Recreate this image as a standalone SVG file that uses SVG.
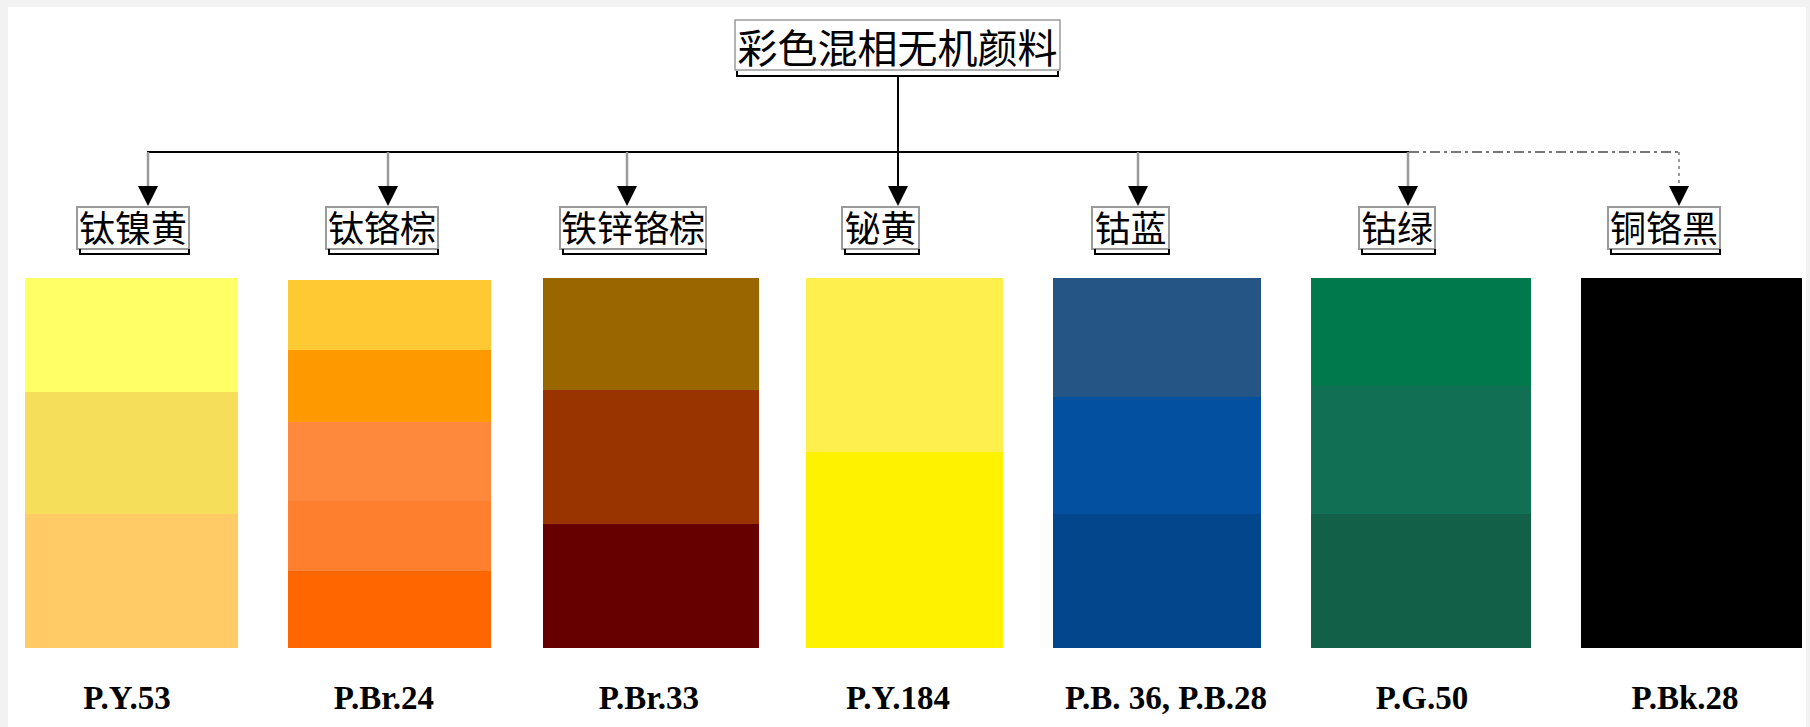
<svg xmlns="http://www.w3.org/2000/svg" width="1810" height="727" viewBox="0 0 1810 727">
<defs>
<style>
.cn{font-family:"Noto Sans CJK SC","Noto Sans CJK TC",sans-serif;fill:#000;text-anchor:middle}
.lbl{font-family:"Liberation Serif","Times New Roman",serif;font-weight:bold;font-size:33px;fill:#000;text-anchor:middle}
.box{fill:#fff;stroke:#9a9a9a;stroke-width:1.5}
.brk{fill:none;stroke:#000;stroke-width:2}
.shaft{stroke:#9a9a9a;stroke-width:2.5;fill:none}
.trunk{stroke:#000;stroke-width:2;fill:none}
.dd{stroke:#777;stroke-width:2;fill:none;stroke-dasharray:10 4 3 4}
.dot{stroke:#999;stroke-width:2;fill:none;stroke-dasharray:3 4}
.head{fill:#000}
.sw rect{shape-rendering:crispEdges}
</style>
</defs>
<rect x="0" y="0" width="1810" height="727" fill="#f2f2f2"/>
<rect x="8" y="7" width="1798" height="720" fill="#fff"/>

<g id="connectors">
<line class="trunk" x1="898" y1="76" x2="898" y2="152"/>
<line class="trunk" x1="147" y1="152" x2="1409" y2="152"/>
<line class="dd" x1="1409" y1="152" x2="1679" y2="152"/>
<path class="shaft" d="M148,152 V188"/>
<path class="shaft" d="M388,152 V188"/>
<path class="shaft" d="M627,152 V188"/>
<path class="trunk" d="M898,152 V188"/>
<path class="shaft" d="M1138,152 V188"/>
<path class="shaft" d="M1408,152 V188"/>
<path class="dot" d="M1679,152 V188"/>
<polygon class="head" points="138,186 158,186 148,206"/>
<polygon class="head" points="378,186 398,186 388,206"/>
<polygon class="head" points="617,186 637,186 627,206"/>
<polygon class="head" points="888,186 908,186 898,206"/>
<polygon class="head" points="1128,186 1148,186 1138,206"/>
<polygon class="head" points="1398,186 1418,186 1408,206"/>
<polygon class="head" points="1669,186 1689,186 1679,206"/>
</g>

<g id="root">
<rect class="box" x="735" y="20" width="325" height="50"/>
<path class="brk" d="M737,71 V76 H1058 V71"/>
<text class="cn" x="897.5" y="63" font-size="40">彩色混相无机颜料</text>
</g>

<g id="n1" class="sw">
<rect class="box" x="77" y="207" width="112" height="42"/>
<path class="brk" d="M80,249 V254 H189 V249"/>
<text class="cn" x="133" y="242" font-size="36">钛镍黄</text>
<rect x="25" y="278" width="213" height="114" fill="#ffff66"/>
<rect x="25" y="392" width="213" height="122" fill="#f5de5a"/>
<rect x="25" y="514" width="213" height="134" fill="#fecb66"/>
<text class="lbl" x="127" y="709">P.Y.53</text>
</g>

<g id="n2" class="sw">
<rect class="box" x="326" y="207" width="112" height="42"/>
<path class="brk" d="M329,249 V254 H438 V249"/>
<text class="cn" x="382" y="242" font-size="36">钛铬棕</text>
<rect x="288" y="280" width="203" height="70" fill="#ffc933"/>
<rect x="288" y="350" width="203" height="72" fill="#ff9900"/>
<rect x="288" y="422" width="203" height="79" fill="#fe883c"/>
<rect x="288" y="501" width="203" height="70" fill="#fe7f2d"/>
<rect x="288" y="571" width="203" height="77" fill="#ff6600"/>
<text class="lbl" x="384" y="709">P.Br.24</text>
</g>

<g id="n3" class="sw">
<rect class="box" x="560" y="207" width="146" height="42"/>
<path class="brk" d="M563,249 V254 H706 V249"/>
<text class="cn" x="633" y="242" font-size="36">铁锌铬棕</text>
<rect x="543" y="278" width="216" height="112" fill="#996600"/>
<rect x="543" y="390" width="216" height="134" fill="#993300"/>
<rect x="543" y="524" width="216" height="124" fill="#660000"/>
<text class="lbl" x="649" y="709">P.Br.33</text>
</g>

<g id="n4" class="sw">
<rect class="box" x="842" y="207" width="77" height="42"/>
<path class="brk" d="M845,249 V254 H919 V249"/>
<text class="cn" x="880.5" y="242" font-size="36">铋黄</text>
<rect x="806" y="278" width="197" height="174" fill="#ffef4e"/>
<rect x="806" y="452" width="197" height="196" fill="#fef200"/>
<text class="lbl" x="898" y="709">P.Y.184</text>
</g>

<g id="n5" class="sw">
<rect class="box" x="1092" y="207" width="77" height="42"/>
<path class="brk" d="M1095,249 V254 H1169 V249"/>
<text class="cn" x="1130.5" y="242" font-size="36">钴蓝</text>
<rect x="1053" y="278" width="208" height="119" fill="#245584"/>
<rect x="1053" y="397" width="208" height="117" fill="#0450a0"/>
<rect x="1053" y="514" width="208" height="134" fill="#04468b"/>
<text class="lbl" x="1166" y="709">P.B. 36, P.B.28</text>
</g>

<g id="n6" class="sw">
<rect class="box" x="1359" y="207" width="76" height="42"/>
<path class="brk" d="M1362,249 V254 H1435 V249"/>
<text class="cn" x="1397" y="242" font-size="36">钴绿</text>
<rect x="1311" y="278" width="220" height="108" fill="#007a4d"/>
<rect x="1311" y="386" width="220" height="128" fill="#116f53"/>
<rect x="1311" y="514" width="220" height="134" fill="#136049"/>
<text class="lbl" x="1422" y="709">P.G.50</text>
</g>

<g id="n7" class="sw">
<rect class="box" x="1608" y="207" width="112" height="42"/>
<path class="brk" d="M1611,249 V254 H1720 V249"/>
<text class="cn" x="1664" y="242" font-size="36">铜铬黑</text>
<rect x="1581" y="278" width="221" height="370" fill="#000"/>
<text class="lbl" x="1685" y="709">P.Bk.28</text>
</g>
</svg>
